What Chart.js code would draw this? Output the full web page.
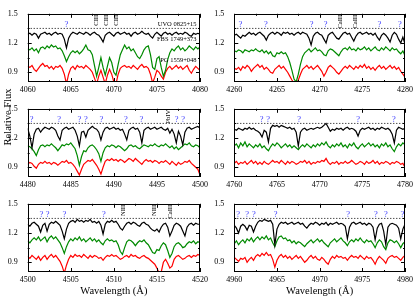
<!DOCTYPE html>
<html>
<head>
<meta charset="utf-8">
<script src="https://cdn.jsdelivr.net/npm/chart.js@4.4.0/dist/chart.umd.min.js"></script>
<style>
  body { margin: 0; background: #fff; width: 416px; height: 298px; position: relative; overflow: hidden; }
  canvas { position: absolute; }
</style>
</head>
<body>
<canvas id="ylab" width="16" height="90" style="left:0;top:72px;"></canvas>
<script>
// sampling step of the spectra (Angstrom)
const STEP = 0.25;

// ---- 4060-4080 ----
const uvo4060 = [1.29,1.30,1.28,1.30,1.29,1.25,1.29,1.30,1.31,1.29,1.30,1.28,1.30,1.31,1.29,1.30,1.29,1.24,1.15,1.25,
  1.29,1.31,1.30,1.29,1.31,1.30,1.29,1.31,1.30,1.28,1.30,1.31,1.29,1.28,1.25,1.21,1.28,1.30,1.31,1.29,
  1.27,1.30,1.31,1.29,1.30,1.31,1.29,1.30,1.27,1.30,1.31,1.29,1.30,1.32,1.30,1.29,1.30,1.27,1.25,1.29,
  1.31,1.29,1.27,1.30,1.31,1.29,1.30,1.28,1.30,1.31,1.29,1.30,1.29,1.31,1.30,1.28,1.27,1.30,1.29,1.30,1.29];
const fbs4060 = [1.14,1.13,1.15,1.12,1.14,1.10,1.15,1.16,1.14,1.17,1.15,1.18,1.16,1.17,1.14,1.15,1.12,1.07,1.01,1.06,
  1.10,1.12,1.10,1.12,1.09,1.11,1.14,1.18,1.13,1.12,1.08,0.97,0.86,0.95,1.05,0.95,0.87,0.96,1.05,1.00,
  0.90,0.87,0.98,1.08,1.13,1.18,1.14,1.16,1.12,1.14,1.10,1.06,1.04,1.08,1.13,1.16,1.17,1.08,0.95,0.93,
  1.04,1.06,0.95,0.86,0.92,1.03,1.10,1.14,1.12,1.15,1.17,1.13,1.15,1.12,1.14,1.17,1.15,1.13,1.16,1.14,1.16];
const pg4060 = [0.96,0.95,0.97,0.93,0.91,0.94,0.97,0.99,0.96,0.97,0.94,0.96,0.93,0.96,0.95,0.97,0.94,0.88,0.78,0.88,
  0.94,0.96,0.93,0.97,0.95,0.96,0.94,0.97,0.95,0.93,0.90,0.84,0.78,0.86,0.92,0.85,0.78,0.87,0.93,0.88,
  0.80,0.78,0.88,0.94,0.96,0.97,0.95,0.96,0.94,0.97,0.95,0.93,0.96,0.98,0.95,0.96,0.94,0.88,0.79,0.85,
  0.92,0.90,0.86,0.83,0.90,0.94,0.96,0.93,0.95,0.97,0.94,0.96,0.93,0.95,0.97,0.92,0.89,0.93,0.96,0.94,0.92];
const q4060 = [4064.5];
const ions4060 = [[4068.0, 'CIII'], [4069.1, 'CIII'], [4070.3, 'CIII']];

// ---- 4260-4280 ----
const uvo4260 = [1.28,1.29,1.27,1.25,1.28,1.27,1.29,1.31,1.29,1.30,1.28,1.30,1.31,1.29,1.27,1.23,1.28,1.30,1.31,1.29,
  1.31,1.30,1.28,1.31,1.30,1.31,1.29,1.30,1.28,1.30,1.31,1.29,1.31,1.30,1.29,1.25,1.18,1.27,1.30,1.31,
  1.29,1.28,1.24,1.20,1.28,1.30,1.31,1.28,1.25,1.24,1.27,1.30,1.31,1.29,1.30,1.26,1.22,1.27,1.30,1.31,
  1.29,1.30,1.31,1.29,1.30,1.28,1.30,1.26,1.23,1.28,1.30,1.28,1.25,1.21,1.28,1.31,1.29,1.24,1.20,1.26,1.19];
const fbs4260 = [1.12,1.11,1.13,1.12,1.10,1.13,1.12,1.11,1.13,1.12,1.14,1.12,1.11,1.13,1.10,1.12,1.09,1.11,1.07,1.06,
  1.10,1.09,1.11,1.09,1.10,1.06,1.00,0.92,0.83,0.80,0.88,0.98,1.06,1.10,1.12,1.14,1.11,1.13,1.15,1.12,
  1.13,1.11,1.08,1.07,1.12,1.14,1.13,1.11,1.09,1.07,1.11,1.14,1.15,1.13,1.16,1.13,1.14,1.12,1.15,1.13,
  1.14,1.16,1.13,1.15,1.12,1.14,1.16,1.13,1.12,1.15,1.13,1.16,1.14,1.12,1.15,1.13,1.14,1.11,1.09,1.12,1.07];
const pg4260 = [0.94,0.93,0.95,0.92,0.96,0.94,0.97,0.95,0.91,0.94,0.96,0.98,0.95,0.97,0.93,0.95,0.93,0.90,0.89,0.93,
  0.95,0.97,0.94,0.96,0.93,0.90,0.86,0.82,0.79,0.78,0.82,0.88,0.93,0.95,0.97,0.94,0.96,0.93,0.95,0.97,
  0.94,0.91,0.86,0.90,0.95,0.97,0.95,0.93,0.90,0.88,0.91,0.94,0.96,0.94,0.97,0.95,0.93,0.96,0.94,0.97,
  0.95,0.98,0.94,0.96,0.93,0.95,0.92,0.95,0.97,0.94,0.96,0.93,0.95,0.97,0.94,0.96,0.93,0.95,0.91,0.88,0.85];
const q4260 = [4260.7, 4263.7, 4269.05, 4270.7, 4277.0, 4279.4];
const ions4260 = [[4272.45, 'CaIII'], [4274.2, 'CaIII']];

// ---- 4480-4500 ----
const uvo4480 = [1.30,1.22,1.10,1.24,1.29,1.30,1.26,1.29,1.31,1.30,1.29,1.31,1.30,1.28,1.22,1.18,1.28,1.30,1.31,1.29,
  1.30,1.31,1.28,1.22,1.12,1.26,1.27,1.21,1.28,1.30,1.32,1.30,1.29,1.26,1.18,1.26,1.30,1.31,1.29,1.30,
  1.31,1.29,1.30,1.28,1.29,1.24,1.18,1.28,1.30,1.31,1.29,1.30,1.26,1.15,1.28,1.30,1.31,1.29,1.30,1.31,
  1.29,1.30,1.31,1.29,1.28,1.30,1.25,1.29,1.24,1.15,1.27,1.22,1.13,1.26,1.30,1.31,1.29,1.30,1.31,1.32,1.30];
const fbs4480 = [1.12,1.11,1.09,1.06,1.02,1.08,1.12,1.13,1.11,1.13,1.12,1.14,1.12,1.10,1.07,1.10,1.13,1.12,1.14,1.13,
  1.15,1.12,1.09,1.02,0.92,1.01,1.07,1.06,1.10,1.12,1.13,1.11,1.08,1.04,0.96,1.05,1.10,1.12,1.11,1.13,
  1.12,1.10,1.12,1.11,1.09,1.07,1.09,1.12,1.13,1.11,1.12,1.10,1.09,1.11,1.13,1.12,1.11,1.13,1.12,1.14,
  1.12,1.11,1.13,1.12,1.14,1.12,1.10,1.12,1.09,1.11,1.08,1.10,1.12,1.14,1.13,1.15,1.12,1.11,1.13,1.12,1.10];
const pg4480 = [0.93,0.95,0.94,0.91,0.89,0.93,0.95,0.94,0.96,0.94,0.95,0.93,0.95,0.94,0.92,0.94,0.96,0.95,0.97,0.94,
  0.95,0.93,0.90,0.86,0.82,0.88,0.93,0.95,0.97,0.96,0.98,0.95,0.92,0.88,0.83,0.90,0.96,0.98,0.97,0.99,
  0.97,0.98,0.96,0.98,0.97,0.95,0.97,0.99,0.98,0.96,0.99,0.97,0.95,0.93,0.96,0.98,0.96,0.97,0.95,0.97,
  0.96,0.94,0.96,0.95,0.97,0.95,0.93,0.96,0.94,0.92,0.95,0.93,0.94,0.96,0.95,0.97,0.94,0.92,0.90,0.88,0.82];
const q4480 = [4480.45, 4483.65, 4486.0, 4486.75, 4488.55, 4491.4, 4493.2, 4497.3, 4498.05];
const ions4480 = [[4496.3, 'PbIV']];

// ---- 4760-4780 ----
const uvo4760 = [1.29,1.28,1.30,1.29,1.28,1.30,1.29,1.31,1.29,1.30,1.28,1.27,1.25,1.21,1.28,1.26,1.16,1.30,1.33,1.32,
  1.33,1.31,1.33,1.32,1.31,1.30,1.31,1.29,1.30,1.26,1.12,1.26,1.29,1.30,1.28,1.29,1.30,1.29,1.30,1.31,
  1.30,1.31,1.33,1.35,1.31,1.27,1.29,1.28,1.30,1.29,1.30,1.28,1.30,1.31,1.29,1.30,1.29,1.27,1.22,1.28,
  1.30,1.29,1.30,1.31,1.29,1.30,1.28,1.30,1.29,1.31,1.30,1.29,1.30,1.28,1.24,1.15,1.28,1.31,1.30,1.29,1.30];
const fbs4760 = [1.12,1.14,1.10,1.15,1.12,1.16,1.11,1.14,1.12,1.10,1.13,1.11,1.14,1.10,1.12,1.09,1.07,1.11,1.14,1.12,
  1.15,1.13,1.10,1.12,1.14,1.11,1.13,1.10,1.12,1.10,1.08,1.11,1.13,1.11,1.14,1.12,1.10,1.13,1.11,1.14,
  1.12,1.15,1.13,1.16,1.12,1.10,1.13,1.11,1.14,1.12,1.15,1.11,1.13,1.10,1.14,1.12,1.15,1.11,1.09,1.12,
  1.14,1.11,1.13,1.15,1.12,1.14,1.11,1.13,1.10,1.14,1.12,1.15,1.11,1.13,1.09,1.06,1.11,1.14,1.12,1.15,1.13];
const pg4760 = [0.94,0.96,0.93,0.95,0.94,0.96,0.93,0.95,0.97,0.94,0.96,0.93,0.95,0.93,0.96,0.94,0.93,0.95,0.97,0.95,
  0.96,0.94,0.97,0.95,0.93,0.96,0.94,0.96,0.95,0.93,0.94,0.96,0.95,0.97,0.94,0.96,0.93,0.95,0.94,0.96,
  0.95,0.97,0.96,0.99,0.95,0.93,0.95,0.94,0.96,0.93,0.95,0.94,0.96,0.94,0.95,0.97,0.95,0.93,0.94,0.96,
  0.95,0.93,0.96,0.94,0.95,0.97,0.94,0.96,0.93,0.95,0.94,0.96,0.95,0.93,0.95,0.94,0.96,0.95,0.93,0.94,0.90];
const q4760 = [4763.2, 4763.95, 4767.6, 4774.5, 4778.7];

// ---- 4500-4520 ----
const uvo4500 = [1.29,1.27,1.30,1.31,1.29,1.27,1.21,1.28,1.30,1.22,1.29,1.31,1.30,1.32,1.30,1.28,1.22,1.14,1.24,1.30,
  1.32,1.33,1.31,1.34,1.32,1.33,1.31,1.33,1.32,1.34,1.31,1.32,1.30,1.32,1.28,1.19,1.29,1.32,1.31,1.33,
  1.31,1.32,1.29,1.25,1.23,1.27,1.30,1.31,1.29,1.31,1.30,1.28,1.27,1.30,1.31,1.29,1.28,1.25,1.23,1.22,
  1.24,1.21,1.26,1.29,1.30,1.26,1.17,1.22,1.28,1.30,1.29,1.27,1.22,1.17,1.26,1.29,1.30,1.28,1.30,1.29,1.29];
const fbs4500 = [1.12,1.10,1.13,1.15,1.13,1.16,1.12,1.14,1.16,1.11,1.15,1.17,1.14,1.16,1.13,1.10,1.05,0.99,1.06,1.11,
  1.14,1.12,1.15,1.13,1.16,1.12,1.14,1.11,1.13,1.15,1.12,1.14,1.11,1.13,1.10,1.08,1.12,1.14,1.12,1.13,
  1.11,1.12,1.08,1.01,0.98,1.05,1.11,1.13,1.12,1.10,1.07,1.10,1.12,1.11,1.13,1.10,1.08,1.04,1.00,0.99,
  1.03,1.02,1.07,1.10,1.08,1.02,0.95,0.99,1.06,1.09,1.10,1.08,1.05,1.06,1.09,1.11,1.10,1.12,1.09,1.11,1.10];
const pg4500 = [0.96,0.94,0.97,0.95,0.93,0.96,0.92,0.95,0.97,0.93,0.96,0.98,0.95,0.97,0.94,0.91,0.86,0.79,0.87,0.93,
  0.97,0.95,0.98,0.96,0.97,0.95,0.98,0.96,0.94,0.97,0.95,0.97,0.96,0.94,0.95,0.92,0.95,0.97,0.96,0.98,
  0.96,0.97,0.95,0.93,0.94,0.96,0.97,0.95,0.98,0.96,0.97,0.95,0.94,0.96,0.97,0.95,0.94,0.92,0.90,0.88,
  0.84,0.79,0.80,0.90,0.93,0.89,0.84,0.86,0.93,0.96,0.97,0.95,0.93,0.94,0.96,0.97,0.95,0.97,0.96,0.98,0.97];
const q4500 = [4501.6, 4502.3, 4504.25, 4508.85];
const ions4500 = [[4511.1, 'NIII'], [4514.65, 'NIII'], [4516.6, 'CaIII']];

// ---- 4960-4980 ----
const uvo4960 = [1.28,1.25,1.20,1.27,1.29,1.27,1.23,1.28,1.27,1.21,1.27,1.31,1.33,1.32,1.34,1.33,1.32,1.33,1.29,1.08,
  1.24,1.29,1.31,1.30,1.31,1.29,1.30,1.31,1.29,1.30,1.31,1.29,1.30,1.27,1.25,1.28,1.30,1.29,1.31,1.30,
  1.28,1.30,1.29,1.31,1.28,1.30,1.29,1.30,1.31,1.29,1.30,1.29,1.27,1.14,1.26,1.30,1.31,1.29,1.30,1.31,
  1.29,1.30,1.28,1.30,1.29,1.26,1.13,1.25,1.29,1.30,1.22,1.08,1.26,1.29,1.30,1.29,1.28,1.25,1.14,1.24,1.29];
const fbs4960 = [1.09,1.12,1.08,1.11,1.13,1.10,1.14,1.12,1.15,1.11,1.14,1.16,1.13,1.16,1.14,1.17,1.13,1.15,1.10,1.06,
  1.12,1.16,1.17,1.14,1.15,1.12,1.13,1.10,1.12,1.09,1.11,1.10,1.08,1.06,1.09,1.11,1.13,1.10,1.12,1.14,
  1.11,1.13,1.10,1.08,1.06,1.10,1.12,1.14,1.11,1.13,1.15,1.12,1.10,1.07,1.11,1.13,1.11,1.14,1.12,1.15,
  1.12,1.10,1.13,1.11,1.12,1.09,1.05,1.10,1.13,1.11,1.06,1.03,1.10,1.13,1.12,1.10,1.12,1.09,1.05,1.09,1.11];
const pg4960 = [0.95,0.93,0.91,0.94,0.93,0.95,0.90,0.93,0.95,0.92,0.96,0.98,0.96,0.99,0.97,1.00,0.97,0.98,0.93,0.85,
  0.92,0.96,0.98,0.95,0.97,0.94,0.96,0.93,0.95,0.97,0.94,0.96,0.93,0.90,0.92,0.95,0.97,0.94,0.96,0.93,
  0.92,0.95,0.93,0.90,0.88,0.93,0.96,0.94,0.97,0.95,0.96,0.94,0.95,0.92,0.95,0.97,0.95,0.96,0.94,0.97,
  0.95,0.93,0.96,0.94,0.95,0.92,0.88,0.93,0.96,0.94,0.92,0.89,0.94,0.96,0.97,0.95,0.96,0.94,0.92,0.95,0.97];
const q4960 = [4960.45, 4961.5, 4962.3, 4964.85, 4973.35, 4976.6, 4977.75, 4979.7];

// star names written inside the first panel, with the flux level they sit at
const starNames = [['UVO 0825+15', 1.39], ['FBS 1749+373', 1.24], ['PG 1559+048', 1.02]];
const yTicks = [0.9, 1.2, 1.5];
const contLevel = 1.35;

const panels = [
  { start: 4060, col: 0, row: 0, uvo: uvo4060, fbs: fbs4060, pg: pg4060, q: q4060, ions: ions4060, names: true },
  { start: 4480, col: 0, row: 1, uvo: uvo4480, fbs: fbs4480, pg: pg4480, q: q4480, ions: ions4480 },
  { start: 4500, col: 0, row: 2, uvo: uvo4500, fbs: fbs4500, pg: pg4500, q: q4500, ions: ions4500 },
  { start: 4260, col: 1, row: 0, uvo: uvo4260, fbs: fbs4260, pg: pg4260, q: q4260, ions: ions4260 },
  { start: 4760, col: 1, row: 1, uvo: uvo4760, fbs: fbs4760, pg: pg4760, q: q4760, ions: [] },
  { start: 4960, col: 1, row: 2, uvo: uvo4960, fbs: fbs4960, pg: pg4960, q: q4960, ions: [] }
];

const FONT = '"Liberation Serif", "Times New Roman", serif';
const colGeom = [ { left: 0, width: 212, axisW: 27.7, padR: 12 }, { left: 206, width: 210, axisW: 28.3, padR: 9.3 } ];
const rowTop = [-1, 94, 189];

function pts(start, vals) {
  return vals.map((v, i) => ({ x: start + i * STEP, y: v }));
}

// y axis title shared by all rows
(function () {
  const c = document.getElementById('ylab').getContext('2d');
  c.translate(8, 45);
  c.rotate(-Math.PI / 2);
  c.font = '10.5px ' + FONT;
  c.fillStyle = '#000';
  c.textAlign = 'center';
  c.textBaseline = 'middle';
  c.fillText('Relative Flux', 0, 0);
})();

// frame, inward ticks and the text marks
const decor = {
  id: 'decor',
  afterDraw(chart, args, o) {
    const ctx = chart.ctx, a = chart.chartArea, xs = chart.scales.x, ys = chart.scales.y;
    ctx.save();
    ctx.strokeStyle = '#000';
    ctx.lineWidth = 1;
    ctx.strokeRect(Math.round(a.left) + 0.5, Math.round(a.top) + 0.5, Math.round(a.right - a.left) - 1, Math.round(a.bottom - a.top) - 1);
    ctx.beginPath();
    for (let d = 0; d <= 20; d += 2.5) {
      const px = Math.round(xs.getPixelForValue(o.start + d)) + 0.5;
      const len = d % 5 === 0 ? 4 : 2;
      ctx.moveTo(px, a.bottom); ctx.lineTo(px, a.bottom - len);
      ctx.moveTo(px, a.top); ctx.lineTo(px, a.top + len);
    }
    [0.9, 1.05, 1.2, 1.35, 1.5].forEach((v, i) => {
      const py = Math.round(ys.getPixelForValue(v)) + 0.5;
      const len = i % 2 === 0 ? 4 : 2;
      ctx.moveTo(a.left, py); ctx.lineTo(a.left + len, py);
      ctx.moveTo(a.right, py); ctx.lineTo(a.right - len, py);
    });
    ctx.stroke();

    ctx.fillStyle = '#3a3aff';
    ctx.font = '8.5px ' + FONT;
    ctx.textAlign = 'center';
    ctx.textBaseline = 'middle';
    o.q.forEach(w => ctx.fillText('?', xs.getPixelForValue(w), ys.getPixelForValue(1.39)));

    ctx.fillStyle = '#000';
    ctx.font = '6.5px ' + FONT;
    o.ions.forEach(([w, t]) => {
      ctx.save();
      ctx.translate(xs.getPixelForValue(w), a.top + 1);
      ctx.rotate(-Math.PI / 2);
      ctx.textAlign = 'right';
      ctx.textBaseline = 'middle';
      ctx.fillText(t, 0, 0);
      ctx.restore();
    });

    if (o.names) {
      ctx.textAlign = 'right';
      ctx.textBaseline = 'middle';
      starNames.forEach(([t, v]) => ctx.fillText(t, xs.getPixelForValue(o.start + 19.6), ys.getPixelForValue(v)));
    }

    if (o.xTitle) {
      ctx.font = '10.5px ' + FONT;
      ctx.textAlign = 'center';
      ctx.textBaseline = 'middle';
      ctx.fillText('Wavelength (Å)', (a.left + a.right) / 2, a.bottom + 19);
    }
    ctx.restore();
  }
};

panels.forEach(p => {
  const g = colGeom[p.col];
  const bottomRow = p.row === 2;
  const xH = bottomRow ? 26 : 15;
  const cv = document.createElement('canvas');
  cv.width = g.width; cv.height = 83 + xH;
  cv.style.left = g.left + 'px';
  cv.style.top = rowTop[p.row] + 'px';
  document.body.appendChild(cv);
  const end = p.start + 20;
  new Chart(cv.getContext('2d'), {
    type: 'line',
    data: {
      datasets: [
        { data: pts(p.start, p.uvo), borderColor: '#000000' },
        { data: pts(p.start, p.fbs), borderColor: '#008a00' },
        { data: pts(p.start, p.pg), borderColor: '#ff0000' },
        { data: [{ x: p.start, y: contLevel }, { x: end, y: contLevel }], borderColor: '#000', borderWidth: 1, borderDash: [1, 2] }
      ]
    },
    options: {
      responsive: false,
      animation: false,
      devicePixelRatio: 1,
      layout: { padding: { top: 5, right: g.padR, left: 0, bottom: 0 } },
      elements: { point: { radius: 0 }, line: { borderWidth: 1.2, tension: 0 } },
      plugins: {
        legend: { display: false },
        tooltip: { enabled: false },
        decor: { start: p.start, q: p.q, ions: p.ions, names: !!p.names, xTitle: bottomRow }
      },
      scales: {
        x: {
          type: 'linear', min: p.start, max: end,
          afterBuildTicks: s => { s.ticks = [0, 5, 10, 15, 20].map(d => ({ value: p.start + d })); },
          afterFit: s => { s.height = xH; },
          grid: { display: false, drawTicks: false },
          border: { display: false },
          ticks: { font: { family: FONT, size: 8 }, color: '#000', padding: 3, maxRotation: 0, autoSkip: false, callback: v => String(v) }
        },
        y: {
          min: 0.8, max: 1.5,
          afterBuildTicks: s => { s.ticks = yTicks.map(v => ({ value: v })); },
          afterFit: s => { s.width = g.axisW; },
          grid: { display: false, drawTicks: false },
          border: { display: false },
          ticks: { font: { family: FONT, size: 8 }, color: '#000', padding: 10, callback: v => v.toFixed(1) }
        }
      }
    },
    plugins: [decor]
  });
});
</script>
</body>
</html>
